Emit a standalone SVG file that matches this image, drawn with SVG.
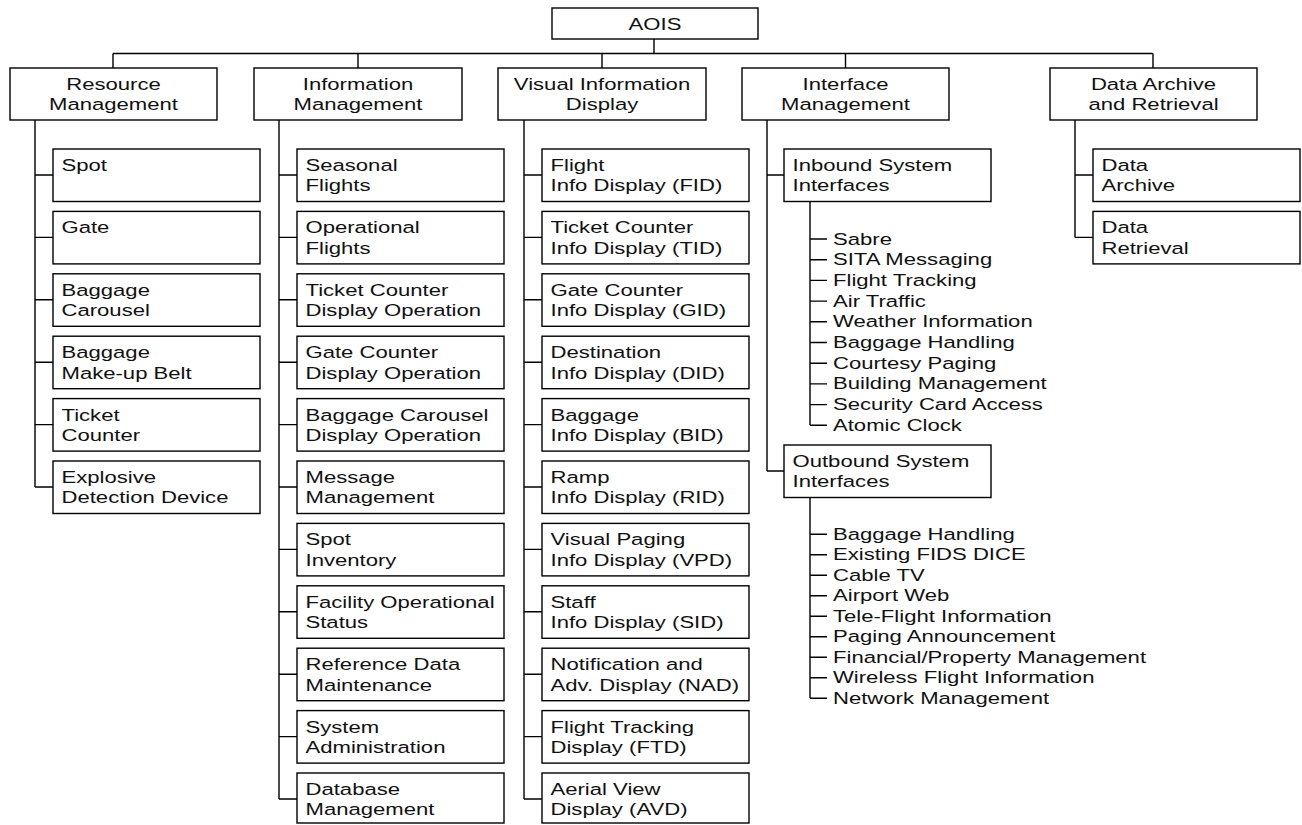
<svg xmlns="http://www.w3.org/2000/svg" width="1302" height="825" viewBox="0 0 1302 825">
<style>
.box{fill:#fff;stroke:#000;stroke-width:1.4}
.ln{fill:none;stroke:#000;stroke-width:1.4}
.t{font-family:"Liberation Sans",Arial,sans-serif;font-size:17px;fill:#111}
.c{text-anchor:middle}
</style>
<rect x="0" y="0" width="1302" height="825" fill="#fff"/>
<g id="connectors" class="ln">
<path d="M654 39V53.5M113 53.5H1153M113 53.5V68M358 53.5V68M602 53.5V68M845.5 53.5V68M1153 53.5V68"/>
<path d="M35 120V487M35 175H53M35 237.4H53M35 299.8H53M35 362.2H53M35 424.6H53M35 487H53"/>
<path d="M279 120V799M279 175H297M279 237.4H297M279 299.8H297M279 362.2H297M279 424.6H297M279 487H297M279 549.4H297M279 611.8H297M279 674.2H297M279 736.6H297M279 799H297"/>
<path d="M524 120V799M524 175H542M524 237.4H542M524 299.8H542M524 362.2H542M524 424.6H542M524 487H542M524 549.4H542M524 611.8H542M524 674.2H542M524 736.6H542M524 799H542"/>
<path d="M767 120V471M767 175H784M767 471H784"/>
<path d="M810 201.5V425.3M810 239H827M810 259.7H827M810 280.4H827M810 301.1H827M810 321.8H827M810 342.5H827M810 363.2H827M810 383.9H827M810 404.6H827M810 425.3H827"/>
<path d="M810 497.5V698.3M810 534.3H827M810 554.8H827M810 575.3H827M810 595.8H827M810 616.3H827M810 636.8H827M810 657.3H827M810 677.8H827M810 698.3H827"/>
<path d="M1075 120V237.4M1075 175H1093M1075 237.4H1093"/>
</g>
<g id="aois"><rect class="box" x="552" y="8" width="206" height="31"/><text class="t c" transform="translate(655 29.5) scale(1.3 1)">AOIS</text></g>
<g id="resource-management"><rect class="box" x="10" y="68" width="207" height="52"/><text class="t c" transform="translate(113.5 90) scale(1.3 1)"><tspan x="0">Resource</tspan><tspan x="0" dy="20.5">Management</tspan></text></g>
<g id="information-management"><rect class="box" x="254" y="68" width="208" height="52"/><text class="t c" transform="translate(358 90) scale(1.3 1)"><tspan x="0">Information</tspan><tspan x="0" dy="20.5">Management</tspan></text></g>
<g id="visual-information-display"><rect class="box" x="498" y="68" width="208" height="52"/><text class="t c" transform="translate(602 90) scale(1.3 1)"><tspan x="0">Visual Information</tspan><tspan x="0" dy="20.5">Display</tspan></text></g>
<g id="interface-management"><rect class="box" x="742" y="68" width="207" height="52"/><text class="t c" transform="translate(845.5 90) scale(1.3 1)"><tspan x="0">Interface</tspan><tspan x="0" dy="20.5">Management</tspan></text></g>
<g id="data-archive-retrieval"><rect class="box" x="1050" y="68" width="207" height="52"/><text class="t c" transform="translate(1153.5 90) scale(1.3 1)"><tspan x="0">Data Archive</tspan><tspan x="0" dy="20.5">and Retrieval</tspan></text></g>

<g id="spot"><rect class="box" x="53" y="149" width="207" height="52.5"/><text class="t" transform="translate(61.5 171) scale(1.3 1)">Spot</text></g>
<g id="gate"><rect class="box" x="53" y="211.4" width="207" height="52.5"/><text class="t" transform="translate(61.5 233.4) scale(1.3 1)">Gate</text></g>
<g id="baggage-carousel"><rect class="box" x="53" y="273.8" width="207" height="52.5"/><text class="t" transform="translate(61.5 295.8) scale(1.3 1)"><tspan x="0">Baggage</tspan><tspan x="0" dy="20.5">Carousel</tspan></text></g>
<g id="baggage-makeup-belt"><rect class="box" x="53" y="336.2" width="207" height="52.5"/><text class="t" transform="translate(61.5 358.2) scale(1.3 1)"><tspan x="0">Baggage</tspan><tspan x="0" dy="20.5">Make-up Belt</tspan></text></g>
<g id="ticket-counter"><rect class="box" x="53" y="398.6" width="207" height="52.5"/><text class="t" transform="translate(61.5 420.6) scale(1.3 1)"><tspan x="0">Ticket</tspan><tspan x="0" dy="20.5">Counter</tspan></text></g>
<g id="explosive-detection"><rect class="box" x="53" y="461" width="207" height="52.5"/><text class="t" transform="translate(61.5 483) scale(1.3 1)"><tspan x="0">Explosive</tspan><tspan x="0" dy="20.5">Detection Device</tspan></text></g>

<g id="seasonal-flights"><rect class="box" x="297" y="149" width="207" height="52.5"/><text class="t" transform="translate(305.5 171) scale(1.3 1)"><tspan x="0">Seasonal</tspan><tspan x="0" dy="20.5">Flights</tspan></text></g>
<g id="operational-flights"><rect class="box" x="297" y="211.4" width="207" height="52.5"/><text class="t" transform="translate(305.5 233.4) scale(1.3 1)"><tspan x="0">Operational</tspan><tspan x="0" dy="20.5">Flights</tspan></text></g>
<g id="ticket-counter-display"><rect class="box" x="297" y="273.8" width="207" height="52.5"/><text class="t" transform="translate(305.5 295.8) scale(1.3 1)"><tspan x="0">Ticket Counter</tspan><tspan x="0" dy="20.5">Display Operation</tspan></text></g>
<g id="gate-counter-display"><rect class="box" x="297" y="336.2" width="207" height="52.5"/><text class="t" transform="translate(305.5 358.2) scale(1.3 1)"><tspan x="0">Gate Counter</tspan><tspan x="0" dy="20.5">Display Operation</tspan></text></g>
<g id="baggage-carousel-display"><rect class="box" x="297" y="398.6" width="207" height="52.5"/><text class="t" transform="translate(305.5 420.6) scale(1.3 1)"><tspan x="0">Baggage Carousel</tspan><tspan x="0" dy="20.5">Display Operation</tspan></text></g>
<g id="message-management"><rect class="box" x="297" y="461" width="207" height="52.5"/><text class="t" transform="translate(305.5 483) scale(1.3 1)"><tspan x="0">Message</tspan><tspan x="0" dy="20.5">Management</tspan></text></g>
<g id="spot-inventory"><rect class="box" x="297" y="523.4" width="207" height="52.5"/><text class="t" transform="translate(305.5 545.4) scale(1.3 1)"><tspan x="0">Spot</tspan><tspan x="0" dy="20.5">Inventory</tspan></text></g>
<g id="facility-status"><rect class="box" x="297" y="585.8" width="207" height="52.5"/><text class="t" transform="translate(305.5 607.8) scale(1.3 1)"><tspan x="0">Facility Operational</tspan><tspan x="0" dy="20.5">Status</tspan></text></g>
<g id="reference-data"><rect class="box" x="297" y="648.2" width="207" height="52.5"/><text class="t" transform="translate(305.5 670.2) scale(1.3 1)"><tspan x="0">Reference Data</tspan><tspan x="0" dy="20.5">Maintenance</tspan></text></g>
<g id="system-admin"><rect class="box" x="297" y="710.6" width="207" height="52.5"/><text class="t" transform="translate(305.5 732.6) scale(1.3 1)"><tspan x="0">System</tspan><tspan x="0" dy="20.5">Administration</tspan></text></g>
<g id="database-management"><rect class="box" x="297" y="773" width="207" height="50"/><text class="t" transform="translate(305.5 795) scale(1.3 1)"><tspan x="0">Database</tspan><tspan x="0" dy="20.5">Management</tspan></text></g>

<g id="fid"><rect class="box" x="542" y="149" width="207" height="52.5"/><text class="t" transform="translate(550.5 171) scale(1.3 1)"><tspan x="0">Flight</tspan><tspan x="0" dy="20.5">Info Display (FID)</tspan></text></g>
<g id="tid"><rect class="box" x="542" y="211.4" width="207" height="52.5"/><text class="t" transform="translate(550.5 233.4) scale(1.3 1)"><tspan x="0">Ticket Counter</tspan><tspan x="0" dy="20.5">Info Display (TID)</tspan></text></g>
<g id="gid"><rect class="box" x="542" y="273.8" width="207" height="52.5"/><text class="t" transform="translate(550.5 295.8) scale(1.3 1)"><tspan x="0">Gate Counter</tspan><tspan x="0" dy="20.5">Info Display (GID)</tspan></text></g>
<g id="did"><rect class="box" x="542" y="336.2" width="207" height="52.5"/><text class="t" transform="translate(550.5 358.2) scale(1.3 1)"><tspan x="0">Destination</tspan><tspan x="0" dy="20.5">Info Display (DID)</tspan></text></g>
<g id="bid"><rect class="box" x="542" y="398.6" width="207" height="52.5"/><text class="t" transform="translate(550.5 420.6) scale(1.3 1)"><tspan x="0">Baggage</tspan><tspan x="0" dy="20.5">Info Display (BID)</tspan></text></g>
<g id="rid"><rect class="box" x="542" y="461" width="207" height="52.5"/><text class="t" transform="translate(550.5 483) scale(1.3 1)"><tspan x="0">Ramp</tspan><tspan x="0" dy="20.5">Info Display (RID)</tspan></text></g>
<g id="vpd"><rect class="box" x="542" y="523.4" width="207" height="52.5"/><text class="t" transform="translate(550.5 545.4) scale(1.3 1)"><tspan x="0">Visual Paging</tspan><tspan x="0" dy="20.5">Info Display (VPD)</tspan></text></g>
<g id="sid"><rect class="box" x="542" y="585.8" width="207" height="52.5"/><text class="t" transform="translate(550.5 607.8) scale(1.3 1)"><tspan x="0">Staff</tspan><tspan x="0" dy="20.5">Info Display (SID)</tspan></text></g>
<g id="nad"><rect class="box" x="542" y="648.2" width="207" height="52.5"/><text class="t" transform="translate(550.5 670.2) scale(1.3 1)"><tspan x="0">Notification and</tspan><tspan x="0" dy="20.5">Adv. Display (NAD)</tspan></text></g>
<g id="ftd"><rect class="box" x="542" y="710.6" width="207" height="52.5"/><text class="t" transform="translate(550.5 732.6) scale(1.3 1)"><tspan x="0">Flight Tracking</tspan><tspan x="0" dy="20.5">Display (FTD)</tspan></text></g>
<g id="avd"><rect class="box" x="542" y="773" width="207" height="50"/><text class="t" transform="translate(550.5 795) scale(1.3 1)"><tspan x="0">Aerial View</tspan><tspan x="0" dy="20.5">Display (AVD)</tspan></text></g>

<g id="inbound"><rect class="box" x="784" y="149" width="207" height="52.5"/><text class="t" transform="translate(792.5 171) scale(1.3 1)"><tspan x="0">Inbound System</tspan><tspan x="0" dy="20.5">Interfaces</tspan></text></g>
<g id="inbound-list"><text class="t" transform="translate(833 244.5) scale(1.3 1)"><tspan x="0">Sabre</tspan><tspan x="0" dy="20.7">SITA Messaging</tspan><tspan x="0" dy="20.7">Flight Tracking</tspan><tspan x="0" dy="20.7">Air Traffic</tspan><tspan x="0" dy="20.7">Weather Information</tspan><tspan x="0" dy="20.7">Baggage Handling</tspan><tspan x="0" dy="20.7">Courtesy Paging</tspan><tspan x="0" dy="20.7">Building Management</tspan><tspan x="0" dy="20.7">Security Card Access</tspan><tspan x="0" dy="20.7">Atomic Clock</tspan></text></g>
<g id="outbound"><rect class="box" x="784" y="445" width="207" height="52.5"/><text class="t" transform="translate(792.5 467) scale(1.3 1)"><tspan x="0">Outbound System</tspan><tspan x="0" dy="20.5">Interfaces</tspan></text></g>
<g id="outbound-list"><text class="t" transform="translate(833 539.8) scale(1.3 1)"><tspan x="0">Baggage Handling</tspan><tspan x="0" dy="20.5">Existing FIDS DICE</tspan><tspan x="0" dy="20.5">Cable TV</tspan><tspan x="0" dy="20.5">Airport Web</tspan><tspan x="0" dy="20.5">Tele-Flight Information</tspan><tspan x="0" dy="20.5">Paging Announcement</tspan><tspan x="0" dy="20.5">Financial/Property Management</tspan><tspan x="0" dy="20.5">Wireless Flight Information</tspan><tspan x="0" dy="20.5">Network Management</tspan></text></g>

<g id="data-archive"><rect class="box" x="1093" y="149" width="207" height="52.5"/><text class="t" transform="translate(1101.5 171) scale(1.3 1)"><tspan x="0">Data</tspan><tspan x="0" dy="20.5">Archive</tspan></text></g>
<g id="data-retrieval"><rect class="box" x="1093" y="211.4" width="207" height="52.5"/><text class="t" transform="translate(1101.5 233.4) scale(1.3 1)"><tspan x="0">Data</tspan><tspan x="0" dy="20.5">Retrieval</tspan></text></g>
</svg>
